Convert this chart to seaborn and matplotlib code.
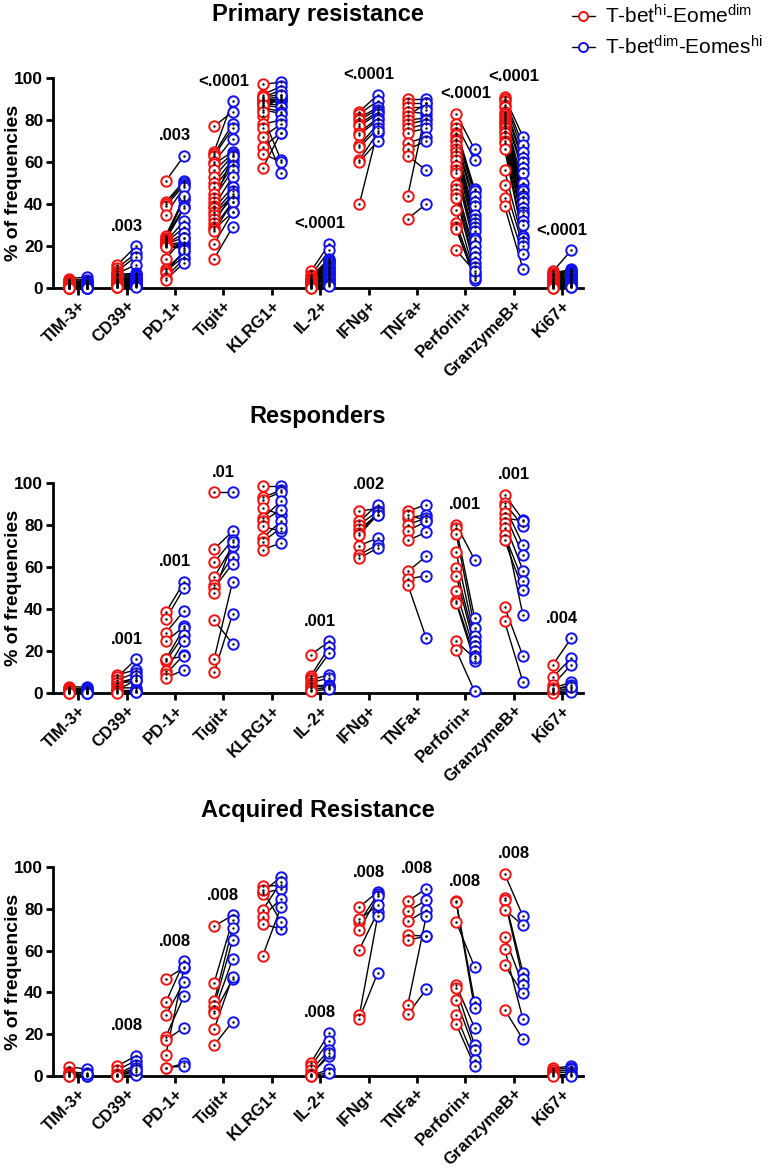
import numpy as np
import pandas as pd
import matplotlib
matplotlib.use("Agg")
import matplotlib.pyplot as plt
from matplotlib.lines import Line2D
import seaborn as sns

# ---------------- data ----------------
CATEGORIES = ["TIM-3+", "CD39+", "PD-1+", "Tigit+", "KLRG1+", "IL-2+",
              "IFNg+", "TNFa+", "Perforin+", "GranzymeB+", "Ki67+"]
PANEL_TITLES = ["Primary resistance", "Responders", "Acquired Resistance"]
GROUP_LABELS = [r"T-bet$^{\mathrm{hi}}$-Eome$^{\mathrm{dim}}$",
                r"T-bet$^{\mathrm{dim}}$-Eomes$^{\mathrm{hi}}$"]

# Primary resistance: T-bet hi (red) and T-bet dim (blue), paired per patient
PRIMARY_HI = [
    [4.5, 3.8, 3.2, 2.9, 2.5, 2.2, 2.0, 1.8, 1.5, 1.3, 1.1, 1.0, 0.9, 0.8, 0.7, 0.6, 0.5, 0.4, 0.3, 0.3, 0.2, 0.2, 0.1, 0.1],
    [11, 9.5, 8, 7, 6.5, 6, 5.5, 5, 4.5, 4, 3.8, 3.5, 3, 2.8, 2.5, 2, 1.8, 1.5, 1.2, 1, 0.8, 0.6, 0.5, 0.3],
    [51, 41, 40, 39, 35, 25, 24, 23.5, 23, 22.5, 22, 21.5, 21, 21, 20.5, 20, 20, 19.5, 14, 9, 8, 7, 5, 4],
    [77, 65, 64, 63, 60, 59, 56, 53, 50, 48, 45, 43, 41, 39, 38, 36, 35, 33, 31, 29, 28, 27, 21, 14],
    [97, 92, 91, 90, 90, 89, 89, 88, 88, 87, 86, 85, 82, 78, 76, 72, 67, 64, 57, 91, 87, 84],
    [8, 6, 5.5, 5, 4.5, 4, 3.8, 3.5, 3.2, 3, 2.8, 2.5, 2.2, 2, 1.8, 1.5, 1.2, 1, 0.8, 0.6, 0.5, 0.4, 0.2, 0.1],
    [84, 83, 81, 80, 78, 77, 74, 73, 68, 67, 61, 60, 40],
    [90, 88, 86, 84, 82, 80, 78, 76, 74, 69, 66, 63, 44, 33],
    [83, 78, 76, 74, 73, 71, 70, 68, 66, 65, 63, 61, 58, 56, 55, 49, 47, 45, 43, 37, 31, 29, 28, 18],
    [91, 90, 89, 87, 86, 84, 83, 82, 81, 80, 79, 78, 77, 76, 75, 74, 72, 70, 69, 66, 56, 49, 43, 39],
    [8, 7, 6.5, 6, 5.5, 5, 4.5, 4, 3.5, 3, 2.8, 2.5, 2.2, 2, 1.8, 1.5, 1.2, 1, 0.8, 0.6, 0.5, 0.3, 0.2, 0.1],
]
PRIMARY_DIM = [
    [5.2, 4.0, 3.5, 3.0, 2.6, 2.3, 2.0, 1.7, 1.5, 1.2, 1.0, 0.9, 0.8, 0.7, 0.6, 0.5, 0.4, 0.4, 0.3, 0.2, 0.2, 0.1, 0.1, 0.0],
    [19.8, 16.5, 15, 11, 7, 6.5, 6, 5.5, 5, 4.8, 4.5, 4, 3.8, 3.5, 3, 2.8, 2.5, 2, 1.8, 1.5, 1.2, 1, 0.8, 0.5],
    [63, 51, 50, 49, 48, 43, 42, 39, 38, 44, 32, 29, 26, 24, 22, 21, 20, 19, 24, 17, 15, 18, 14, 12],
    [84, 89, 78, 76, 71, 65, 64, 63, 61, 59, 58, 56, 63, 53, 48, 46, 44, 43, 45, 41, 36, 41, 36, 29],
    [98, 96, 92, 91, 90, 90, 89, 89, 87, 86, 84, 83, 61, 80, 55, 78, 74, 60, 74, 94, 91, 92],
    [21, 18, 14, 13.5, 13, 12.5, 12, 11, 10, 9.5, 9, 8, 7.5, 7, 6, 5.5, 5, 4.5, 4, 3, 2.5, 2, 1.5, 0.8],
    [92, 89, 86, 85, 84, 83, 81, 80, 78, 76, 74, 70, 75],
    [90, 88, 86, 83, 88, 81, 80, 78, 76, 72, 70, 56, 85, 40],
    [66, 61, 47, 46, 44, 41, 39, 35, 33, 31, 29, 27, 24, 23, 20, 17, 15, 12, 10, 7, 6, 4, 5, 8],
    [72, 68, 65, 62, 60, 57, 55, 50, 47, 46, 44, 43, 41, 38, 36, 35, 32, 30, 25, 24, 22, 20, 16, 9],
    [18, 9, 8.5, 8, 7.5, 7, 6.5, 6, 5.5, 5, 4.5, 4, 3.5, 3.2, 3, 2.5, 2, 1.8, 1.5, 1.2, 1, 0.8, 0.5, 0.3],
]
PRIMARY_P = ["", ".003", ".003", "<.0001", "", "<.0001", "<.0001", "", "<.0001", "<.0001", "<.0001"]

# Responders
RESP_HI = [
    [3, 2.5, 2, 1.8, 1.5, 1.2, 1, 0.8, 0.5, 0.3, 0.2, 0.1],
    [8.7, 7.5, 6.3, 5, 4.8, 3.2, 2.5, 1.6, 1.2, 0.8, 0.4, 0.1],
    [38.4, 35.2, 28.6, 24.6, 16.2, 15.1, 10.3, 9, 7.1, 16],
    [95.6, 68.6, 62.2, 55.2, 51.6, 50, 47.6, 34.6, 16.3, 9.8],
    [98.7, 93.2, 92, 88, 83.3, 81.7, 79.4, 73.8, 71.9, 68.3],
    [18.3, 8.3, 7, 6.3, 5, 4, 3, 2.4, 1.5, 0.8],
    [86.5, 81.7, 80.2, 78, 76.2, 75.4, 70.2, 65.9, 64.3],
    [86.5, 83.3, 80.2, 77.3, 72.7, 57.9, 54.3, 51.6, 85],
    [80.2, 78.6, 75.9, 67, 59.5, 55.9, 48.4, 43.7, 42.9, 24.6, 20.3],
    [94.4, 90.5, 88.9, 85.7, 83.3, 81, 78.6, 75.4, 72.7, 41, 34.1],
    [13.5, 7.6, 4, 2.4, 1.3, 0.8, 0.3, 0.1, 2],
]
RESP_DIM = [
    [2.8, 2.5, 2, 1.5, 1.2, 1, 0.8, 0.5, 0.3, 0.2, 0.1, 0.0],
    [11, 16, 9.5, 7, 5.6, 8, 2.4, 6, 1.2, 0.8, 0.5, 0.3],
    [52.9, 50, 39.2, 31.7, 31, 27.8, 24.9, 18.3, 11.1, 17.5],
    [95.6, 77, 73, 70, 65, 61.6, 72, 23.5, 53, 37.6],
    [98.7, 96.5, 95.6, 84.9, 91.3, 87.3, 77, 81.7, 78.6, 71.4],
    [24.6, 21.9, 19, 8.7, 7.1, 4, 3.5, 2.4, 3, 1.8],
    [88, 89.7, 86.5, 84.9, 86, 85, 73.8, 70.6, 69],
    [89.7, 84.9, 83.3, 81.7, 76.5, 65.1, 55.9, 26.2, 82],
    [63.5, 35.7, 31, 27, 24.6, 22.2, 19.8, 17.5, 15.1, 16.5, 0.8],
    [82.5, 79.4, 70.6, 65.6, 82, 58.3, 37, 53.2, 49.2, 17.5, 5.1],
    [26.2, 16.7, 13.5, 5.1, 4, 2.4, 1.3, 0.3, 3],
]
RESP_P = ["", ".001", ".001", ".01", "", ".001", ".002", "", ".001", ".001", ".004"]

# Acquired resistance
ACQ_HI = [
    [4.5, 2, 1.5, 0.8, 0.5, 0.2, 0.1],
    [4.8, 2.9, 1, 0.5, 0.3, 0.2, 0.1],
    [46.5, 35.2, 29.1, 18.8, 17.2, 9.9, 3.7, 4],
    [71.7, 44.7, 35.8, 33.6, 31.2, 30, 22.5, 14.8],
    [90.8, 88.1, 87.3, 79.3, 76.1, 72.6, 57.3, 89],
    [6.4, 4.8, 2.9, 1, 0.5, 0.2, 0.1],
    [80.9, 73.7, 69.7, 60.5, 29.1, 27.5, 75],
    [83.8, 78.8, 74, 67.4, 65, 33.9, 29.6],
    [83.6, 83.1, 73.7, 43.5, 41.9, 36.3, 29.1, 24.8],
    [96.8, 85.2, 84.4, 79.6, 66.6, 61, 53, 31.8],
    [3.7, 3, 2, 1.5, 1, 0.5, 0.1],
]
ACQ_DIM = [
    [3.2, 1.3, 0.5, 0.3, 0.2, 0.1, 0.8],
    [9.6, 7.3, 5.3, 4, 2, 0.5, 3],
    [51.9, 54.8, 45, 38.4, 23.2, 52, 6, 4.8],
    [76.9, 74.5, 70.9, 65, 55.9, 46.2, 47.5, 26],
    [91.2, 95.2, 89.6, 92.8, 84.9, 70.5, 80.9, 73.7],
    [20.7, 16.9, 12.4, 9.6, 11, 3.2, 1.6],
    [88.1, 86.9, 86, 78.5, 76.6, 49.4, 81.7],
    [89.6, 84.1, 79.3, 66.9, 66.9, 76.4, 41.4],
    [35.5, 32.3, 52.2, 23.1, 14.8, 12.4, 7.6, 4.8],
    [76.4, 49.4, 46.2, 72.1, 43.5, 27.1, 39.5, 17.5],
    [4.8, 4, 3.2, 2, 1, 0.5, 0.2],
]
ACQ_P = ["", ".008", ".008", ".008", "", ".008", ".008", ".008", ".008", ".008", ""]

PANELS = [(PRIMARY_HI, PRIMARY_DIM, PRIMARY_P),
          (RESP_HI, RESP_DIM, RESP_P),
          (ACQ_HI, ACQ_DIM, ACQ_P)]

# ---------------- style ----------------
RED = "#f21010"
BLUE = "#1010f2"
OFFSET = 0.19

sns.set_style("ticks")
plt.rcParams["font.family"] = ["Liberation Sans", "DejaVu Sans"]
plt.rcParams["mathtext.fontset"] = "custom"
plt.rcParams["mathtext.rm"] = "Liberation Sans"
plt.rcParams["mathtext.it"] = "Liberation Sans:italic"
plt.rcParams["mathtext.bf"] = "Liberation Sans:bold"
for key in ("text.color", "axes.labelcolor", "xtick.color", "ytick.color",
            "axes.edgecolor"):
    plt.rcParams[key] = "black"

W, H = 768, 1169
fig = plt.figure(figsize=(W / 100, H / 100), dpi=100)

AX_LEFT, AX_RIGHT = 53, 583
AX_ROWS = [(78, 288), (483, 693), (867, 1076)]   # (top px, bottom px)
TITLE_Y = [14, 417, 810]

for pi, ((hi, dim, plabels), (ytop, ybot)) in enumerate(zip(PANELS, AX_ROWS)):
    ax = fig.add_axes([AX_LEFT / W, 1 - ybot / H,
                       (AX_RIGHT - AX_LEFT) / W, (ybot - ytop) / H])
    rows = []
    for ci in range(len(CATEGORIES)):
        for k, (r, b) in enumerate(zip(hi[ci], dim[ci])):
            uid = f"{ci}-{k}"
            rows.append(dict(pair=uid, group="hi", x=ci - OFFSET, value=r))
            rows.append(dict(pair=uid, group="dim", x=ci + OFFSET, value=b))
    df = pd.DataFrame(rows)

    sns.lineplot(data=df, x="x", y="value", units="pair", estimator=None,
                 color="black", lw=1.0, legend=False, ax=ax, zorder=1,
                 clip_on=False)
    for g, col in (("hi", RED), ("dim", BLUE)):
        sub = df[df.group == g]
        sns.scatterplot(data=sub, x="x", y="value", ax=ax, s=56,
                        facecolor="white", edgecolor=col, linewidth=1.4,
                        zorder=3, clip_on=False, legend=False)
    sns.scatterplot(data=df, x="x", y="value", ax=ax, s=3, color="black",
                    linewidth=0, zorder=4, clip_on=False, legend=False)

    for ci, lab in enumerate(plabels):
        if lab:
            y = max(max(hi[ci]), max(dim[ci])) + 9.5
            y = max(y, 24)
            ax.text(ci, y, lab, ha="center", va="center", fontsize=12,
                    fontweight="bold", color="black", clip_on=False)

    ax.set_xlim(-0.52, 10.43)
    ax.set_ylim(0, 100)
    ax.set_yticks(range(0, 101, 20))
    ax.set_xticks(range(len(CATEGORIES)))
    ax.set_xticklabels(CATEGORIES, rotation=45, ha="right",
                       rotation_mode="anchor", fontsize=12, fontweight="bold")
    for t in ax.get_yticklabels():
        t.set_fontweight("bold")
        t.set_fontsize(12.5)
    sns.despine(ax=ax)
    for sp in ("left", "bottom"):
        ax.spines[sp].set_linewidth(2.0)
        ax.spines[sp].set_color("black")
    ax.tick_params(axis="both", width=2.0, length=5, pad=2, colors="black")
    ax.set_xlabel("")
    ax.set_ylabel("% of frequencies", fontsize=14, fontweight="bold",
                  color="black")
    ax.yaxis.set_label_coords(-0.058, 0.5)

    fig.text((AX_LEFT + AX_RIGHT) / 2 / W, 1 - TITLE_Y[pi] / H,
             PANEL_TITLES[pi], ha="center", va="center", fontsize=17,
             fontweight="bold", color="black")

handles = [Line2D([0], [0], color="black", lw=1.0, marker="o", markersize=6.5,
                  markerfacecolor="white", markeredgecolor=c,
                  markeredgewidth=1.4) for c in (RED, BLUE)]
fig.legend(handles, GROUP_LABELS, loc="upper left",
           bbox_to_anchor=(572 / W, 1 - 4 / H), frameon=False, fontsize=15,
           handlelength=1.1, handletextpad=0.5, labelspacing=0.4,
           borderpad=0, borderaxespad=0, labelcolor="black")

fig.savefig("out.png", dpi=100)
